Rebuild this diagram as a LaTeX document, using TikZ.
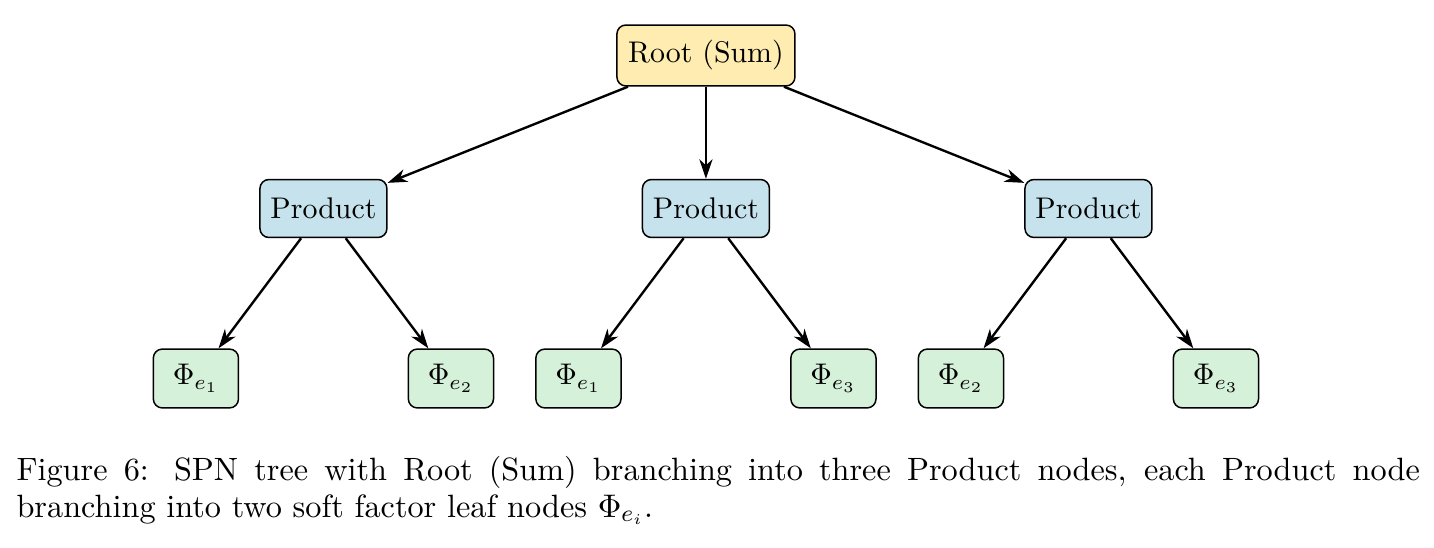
\documentclass[tikz,border=0pt]{standalone}
\usetikzlibrary{arrows.meta}
\definecolor{rootfill}{RGB}{254,236,176}
\definecolor{prodfill}{RGB}{198,226,236}
\definecolor{leaffill}{RGB}{214,241,218}
\begin{document}
\begin{tikzpicture}[
  box/.style={draw=black, line width=0.5pt, rounded corners=3pt, inner sep=1pt, align=center},
  rootbox/.style={box, fill=rootfill, minimum width=59.6pt, minimum height=20.4pt},
  prodbox/.style={box, fill=prodfill, minimum width=42.5pt, minimum height=19.4pt},
  leafbox/.style={box, fill=leaffill, minimum width=28.5pt, minimum height=19.7pt},
  edge/.style={thick, -{Stealth[length=6.5pt,width=4.4pt,inset=2pt]}}
]
\useasboundingbox (-236.3pt,18.58pt) rectangle (243.7pt,-164.85pt);
\node[rootbox] (root) at (0,0) {Root (Sum)};
\node[prodbox] (p1) at (-4.5,-1.8) {Product};
\node[prodbox] (p2) at (0,-1.8) {Product};
\node[prodbox] (p3) at (4.5,-1.8) {Product};
\node[leafbox] (l1) at (-6,-3.8) {$\Phi_{e_1}$};
\node[leafbox] (l2) at (-3,-3.8) {$\Phi_{e_2}$};
\node[leafbox] (l3) at (-1.5,-3.8) {$\Phi_{e_1}$};
\node[leafbox] (l4) at (1.5,-3.8) {$\Phi_{e_3}$};
\node[leafbox] (l5) at (3,-3.8) {$\Phi_{e_2}$};
\node[leafbox] (l6) at (6,-3.8) {$\Phi_{e_3}$};
\draw[edge] (root) -- (p1);
\draw[edge] (root) -- (p2);
\draw[edge] (root) -- (p3);
\draw[edge] (p1) -- (l1);
\draw[edge] (p1) -- (l2);
\draw[edge] (p2) -- (l3);
\draw[edge] (p2) -- (l4);
\draw[edge] (p3) -- (l5);
\draw[edge] (p3) -- (l6);
\node[inner sep=0pt, anchor=base west] (caption) at (-230.96pt,-142.4pt)
  {\parbox[t]{469.75pt}{\fontsize{10.8}{12.1}\selectfont Figure 6: SPN tree with Root (Sum) branching into three Product nodes, each Product node\linebreak branching into two soft factor leaf nodes $\Phi_{e_i}$.}};
\end{tikzpicture}
\end{document}
